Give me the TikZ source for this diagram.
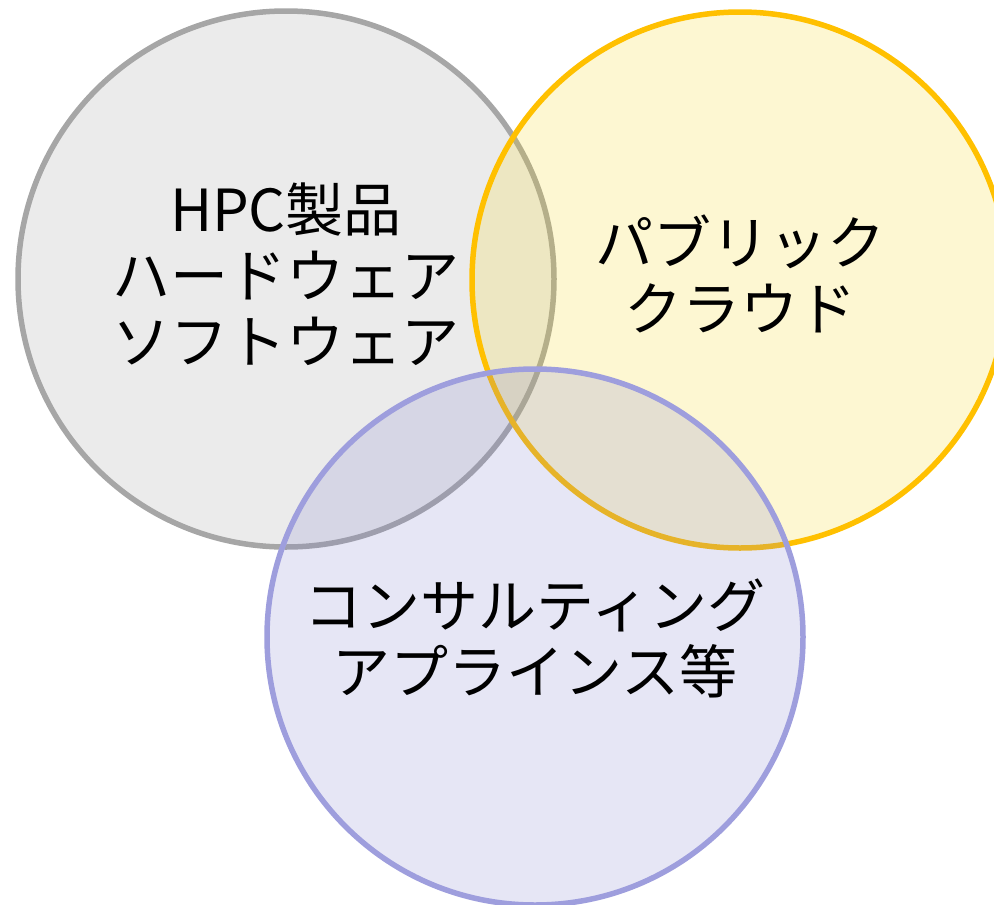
\documentclass[tikz,border=0pt]{standalone}
\usepackage{fontspec}
\setmainfont{Noto Sans CJK JP}
\usepackage{tikz}

\definecolor{hpcline}{HTML}{A6A6A6}
\definecolor{hpcfill}{RGB}{155,155,155}
\definecolor{cloudline}{HTML}{FFC000}
\definecolor{cloudfill}{RGB}{245,215,30}
\definecolor{consline}{HTML}{9E9EDD}
\definecolor{consfill}{RGB}{130,130,205}

\begin{document}
\begin{tikzpicture}[x=1pt,y=-1pt,
	ring/.style={line width=5.5pt, fill opacity=0.2},
	ringtext/.style={font=\fontsize{58}{66}\selectfont, align=center}]
	\useasboundingbox (0,0) rectangle (994,905);
	\clip (0,0) rectangle (994,905);

            % three overlapping areas
            \filldraw[ring, draw=hpcline, fill=hpcfill] (286,279) circle [radius=268pt];
            \filldraw[ring, draw=cloudline, fill=cloudfill] (740,280) circle [radius=268pt];
            \filldraw[ring, draw=consline, fill=consfill] (535,637) circle [radius=268pt];

            \node[ringtext] (hpc) at (286,274) {HPC製品\\ハードウェア\\ソフトウェア};
            \node[ringtext] (cloud) at (740,274) {パブリック\\クラウド};
            \node[ringtext] (cons) at (535,638) {コンサルティング\\アプラインス等};
        \end{tikzpicture}
\end{document}
